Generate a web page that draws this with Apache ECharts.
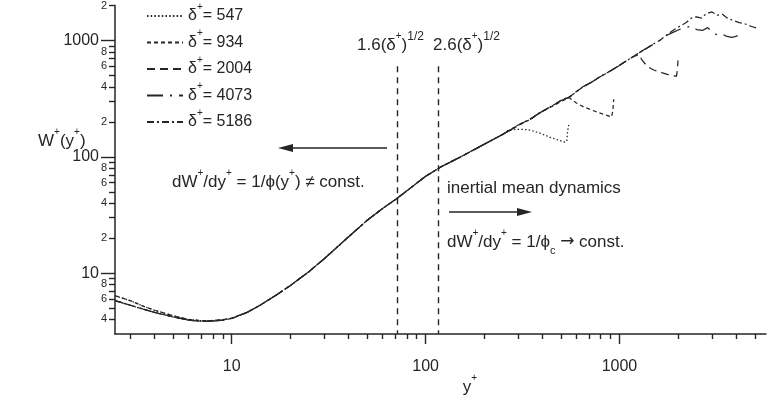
<!DOCTYPE html>
<html><head><meta charset="utf-8">
<script src="https://cdn.jsdelivr.net/npm/echarts@6/dist/echarts.min.js"></script>
<style>html,body{margin:0;padding:0;background:#fff}#c{width:767px;height:406px}</style>
</head><body><div id="c"></div>
<script>
const FONT = '"Liberation Sans", Arial, Helvetica, sans-serif';
const INK = '#262626';

// Reynolds numbers (legend)
const deltaNames = ['547', '934', '2004', '4073', '5186'];

// collapsed inner region
const yInner = [2.5, 3, 3.5, 4, 5, 6, 7, 8, 9, 10, 12, 14, 17, 20, 25, 30, 40, 50, 60, 70, 80, 100, 120, 150, 200, 250];
const wInnerHigh = [6.4, 5.8, 5.2, 4.8, 4.3, 4.0, 3.9, 3.92, 3.98, 4.1, 4.6, 5.3, 6.5, 7.8, 10.3, 13.3, 20.5, 28.5, 36, 43, 51, 68, 82, 99, 128, 156];
const wInnerLow = [5.8, 5.3, 4.9, 4.6, 4.2, 3.95, 3.85, 3.88, 3.95, 4.08, 4.6, 5.3, 6.5, 7.8, 10.3, 13.3, 20.5, 28.5, 36, 43, 51, 68, 82, 99, 128, 156];

// outer region of each profile
const yOuter547 = [265, 290, 320, 345, 390, 435, 480, 520, 535, 540, 547];
const wOuter547 = [168, 172, 172, 170, 160, 148, 140, 134, 136, 165, 188];

const yOuter934 = [300, 350, 390, 450, 500, 550, 600, 650, 700, 780, 850, 910, 925, 934];
const wOuter934 = [186, 212, 240, 272, 300, 322, 290, 270, 257, 240, 229, 220, 250, 313];

const yOuter2004 = [300, 350, 390, 450, 500, 552, 600, 650, 720, 788, 900, 1000, 1100, 1200, 1260, 1300, 1377, 1450, 1514, 1650, 1766, 1900, 1968, 1990, 2004];
const wOuter2004 = [186, 214, 240, 275, 305, 326, 365, 400, 440, 483, 550, 610, 680, 735, 760, 690, 611, 575, 555, 530, 512, 500, 492, 560, 675];

const yOuter4073 = [300, 350, 390, 450, 500, 552, 600, 650, 720, 788, 900, 1000, 1100, 1225, 1350, 1500, 1620, 1747, 1900, 2050, 2200, 2350, 2500, 2680, 2850, 3000, 3160, 3350, 3550, 3775, 3950, 4073];
const wOuter4073 = [186, 214, 240, 275, 305, 326, 365, 400, 440, 483, 550, 610, 680, 758, 840, 930, 1010, 1104, 1180, 1250, 1290, 1330, 1242, 1220, 1290, 1200, 1125, 1150, 1090, 1062, 1080, 1100];

const yOuter5186 = [300, 350, 390, 450, 500, 552, 600, 650, 720, 788, 900, 1000, 1100, 1225, 1350, 1500, 1620, 1747, 1900, 2050, 2200, 2350, 2500, 2650, 2800, 3000, 3200, 3400, 3565, 3800, 4150, 4500, 4800, 5186];
const wOuter5186 = [188, 212, 242, 273, 307, 328, 362, 402, 438, 486, 548, 612, 676, 762, 836, 935, 1005, 1110, 1230, 1330, 1420, 1560, 1600, 1560, 1700, 1760, 1650, 1680, 1575, 1500, 1426, 1380, 1320, 1268];

// guide lines 1.6(δ+)^1/2 and 2.6(δ+)^1/2 for δ+ = 2004
const guideX = [71.6, 116.4];
const guideTop = 600;

// ticks
const xMajor = [10, 100, 1000];
const xMinor = [3, 4, 5, 6, 7, 8, 9, 20, 30, 40, 50, 60, 70, 80, 90, 200, 300, 400, 500, 600, 700, 800, 900, 2000, 3000, 4000, 5000];
const yMajor = [10, 100, 1000];
const yMinor = [4, 5, 6, 7, 8, 9, 20, 30, 40, 50, 60, 70, 80, 90, 200, 300, 400, 500, 600, 700, 800, 900, 2000];
const yMinorLabeled = [4, 6, 8, 20, 40, 60, 80, 200, 400, 600, 800, 2000];

const dashes = {
  '547': [1.5, 2.2],
  '934': [4, 3],
  '2004': [8, 5],
  '4073': [16, 7, 2, 7],
  '5186': [7, 3, 2, 3]
};

function pairs(xs, ys) { return xs.map((x, i) => [x, ys[i]]); }
const seriesData = {
  '547': pairs(yInner.concat(yOuter547), wInnerHigh.concat(wOuter547)),
  '934': pairs(yInner.concat(yOuter934), wInnerHigh.concat(wOuter934)),
  '2004': pairs(yInner.concat(yOuter2004), wInnerLow.concat(wOuter2004)),
  '4073': pairs(yInner.concat(yOuter4073), wInnerLow.concat(wOuter4073)),
  '5186': pairs(yInner.concat(yOuter5186), wInnerLow.concat(wOuter5186))
};

function makeRich(fs) {
  return {
    n: { fontSize: fs, fontFamily: FONT, color: INK, lineHeight: 28 },
    s: { fontSize: 10, fontFamily: FONT, color: INK, lineHeight: 13, verticalAlign: 'top' },
    h: { fontSize: 12, fontFamily: FONT, color: INK, lineHeight: 14, verticalAlign: 'top' },
    b: { fontSize: 11, fontFamily: FONT, color: INK, lineHeight: 12, verticalAlign: 'bottom' },
    a: { fontSize: fs, fontFamily: '"DejaVu Sans", sans-serif', color: INK, lineHeight: 28 }
  };
}
const richText = makeRich(17);
const richLegend = makeRich(16);

const series = deltaNames.map((name, i) => ({
  name: name,
  type: 'line',
  data: seriesData[name],
  showSymbol: false,
  symbol: 'none',
  smooth: false,
  animation: false,
  lineStyle: { color: INK, width: 1.25, type: dashes[name] },
  itemStyle: { color: INK },
  markLine: i === 0 ? {
    silent: true, symbol: 'none', animation: false,
    label: { show: false },
    lineStyle: { color: INK, width: 1.4, type: [6, 5] },
    data: guideX.map(g => [{ coord: [g, guideTop] }, { coord: [g, 3] }])
  } : undefined
}));

function txt(x, y, text, align) {
  return { type: 'text', x: x, y: y, silent: true,
    style: { text: text, rich: richText, align: align || 'left', verticalAlign: 'middle', fill: INK, font: '17px ' + FONT } };
}

const chart = echarts.init(document.getElementById('c'), null, { renderer: 'canvas' });
chart.setOption({
  animation: false,
  backgroundColor: '#ffffff',
  grid: { left: 115, right: 1, top: 3.6, bottom: 72, containLabel: false },
  legend: {
    orient: 'vertical', left: 141, top: -3, itemWidth: 36, itemHeight: 14, itemGap: 4.5,
    data: deltaNames,
    itemStyle: { opacity: 0 },
    textStyle: { color: INK, fontFamily: FONT, fontSize: 16, rich: richLegend },
    formatter: name => `{n|δ}{s|+}{n|= ${name}}`
  },
  xAxis: [
    { type: 'log', logBase: 10, min: 2.5, max: 5700, position: 'bottom',
      axisLine: { onZero: false, lineStyle: { color: INK, width: 1.5 } },
      axisTick: { show: true, length: 10, customValues: xMajor, lineStyle: { color: INK, width: 1.4 } },
      axisLabel: { customValues: xMajor, fontSize: 16, fontFamily: FONT, color: INK, margin: 25, formatter: v => String(Math.round(v)) },
      splitLine: { show: false }, minorTick: { show: false } },
    { type: 'log', logBase: 10, min: 2.5, max: 5700, position: 'bottom',
      axisLine: { show: false, onZero: false },
      axisTick: { show: true, length: 5, customValues: xMinor, lineStyle: { color: INK, width: 1.4 } },
      axisLabel: { show: false },
      splitLine: { show: false } }
  ],
  yAxis: [
    { type: 'log', logBase: 10, min: 3, max: 2000, position: 'left',
      axisLine: { onZero: false, lineStyle: { color: INK, width: 1.5 } },
      axisTick: { show: true, length: 14, customValues: yMajor, lineStyle: { color: INK, width: 1.4 } },
      axisLabel: { customValues: yMajor, fontSize: 16, fontFamily: FONT, color: INK, margin: 16, formatter: v => String(Math.round(v)) },
      splitLine: { show: false } },
    { type: 'log', logBase: 10, min: 3, max: 2000, position: 'left',
      axisLine: { show: false, onZero: false },
      axisTick: { show: true, length: 6, customValues: yMinor, lineStyle: { color: INK, width: 1.4 } },
      axisLabel: { customValues: yMinorLabeled, fontSize: 11, fontFamily: FONT, color: INK, margin: 8,
        formatter: v => String(Math.round(v / Math.pow(10, Math.floor(Math.log10(v) + 1e-9)))) },
      splitLine: { show: false } }
  ],
  series: series,
  graphic: [
    txt(38, 141, '{n|W}{s|+}{n|(y}{s|+}{n|)}'),
    txt(470, 387, '{n|y}{s|+}', 'center'),
    txt(357, 45, '{n|1.6(δ}{s|+}{n|)}{h|1/2}'),
    txt(433, 45, '{n|2.6(δ}{s|+}{n|)}{h|1/2}'),
    txt(172, 182, '{n|dW}{s|+}{n|/dy}{s|+}{n| = 1/ϕ(y}{s|+}{n|) ≠ const.}'),
    txt(447, 188, '{n|inertial mean dynamics}'),
    txt(447, 242, '{n|dW}{s|+}{n|/dy}{s|+}{n| = 1/ϕ}{b|c}{n| }{a|→}{n| const.}'),
    { type: 'line', silent: true, shape: { x1: 387, y1: 148, x2: 290, y2: 148 }, style: { stroke: INK, lineWidth: 1.3 } },
    { type: 'polygon', silent: true, shape: { points: [[278, 148], [293, 144], [293, 152]] }, style: { fill: INK } },
    { type: 'line', silent: true, shape: { x1: 449, y1: 212, x2: 520, y2: 212 }, style: { stroke: INK, lineWidth: 1.3 } },
    { type: 'polygon', silent: true, shape: { points: [[532, 212], [517, 208], [517, 216]] }, style: { fill: INK } }
  ]
});
</script>
</body></html>
